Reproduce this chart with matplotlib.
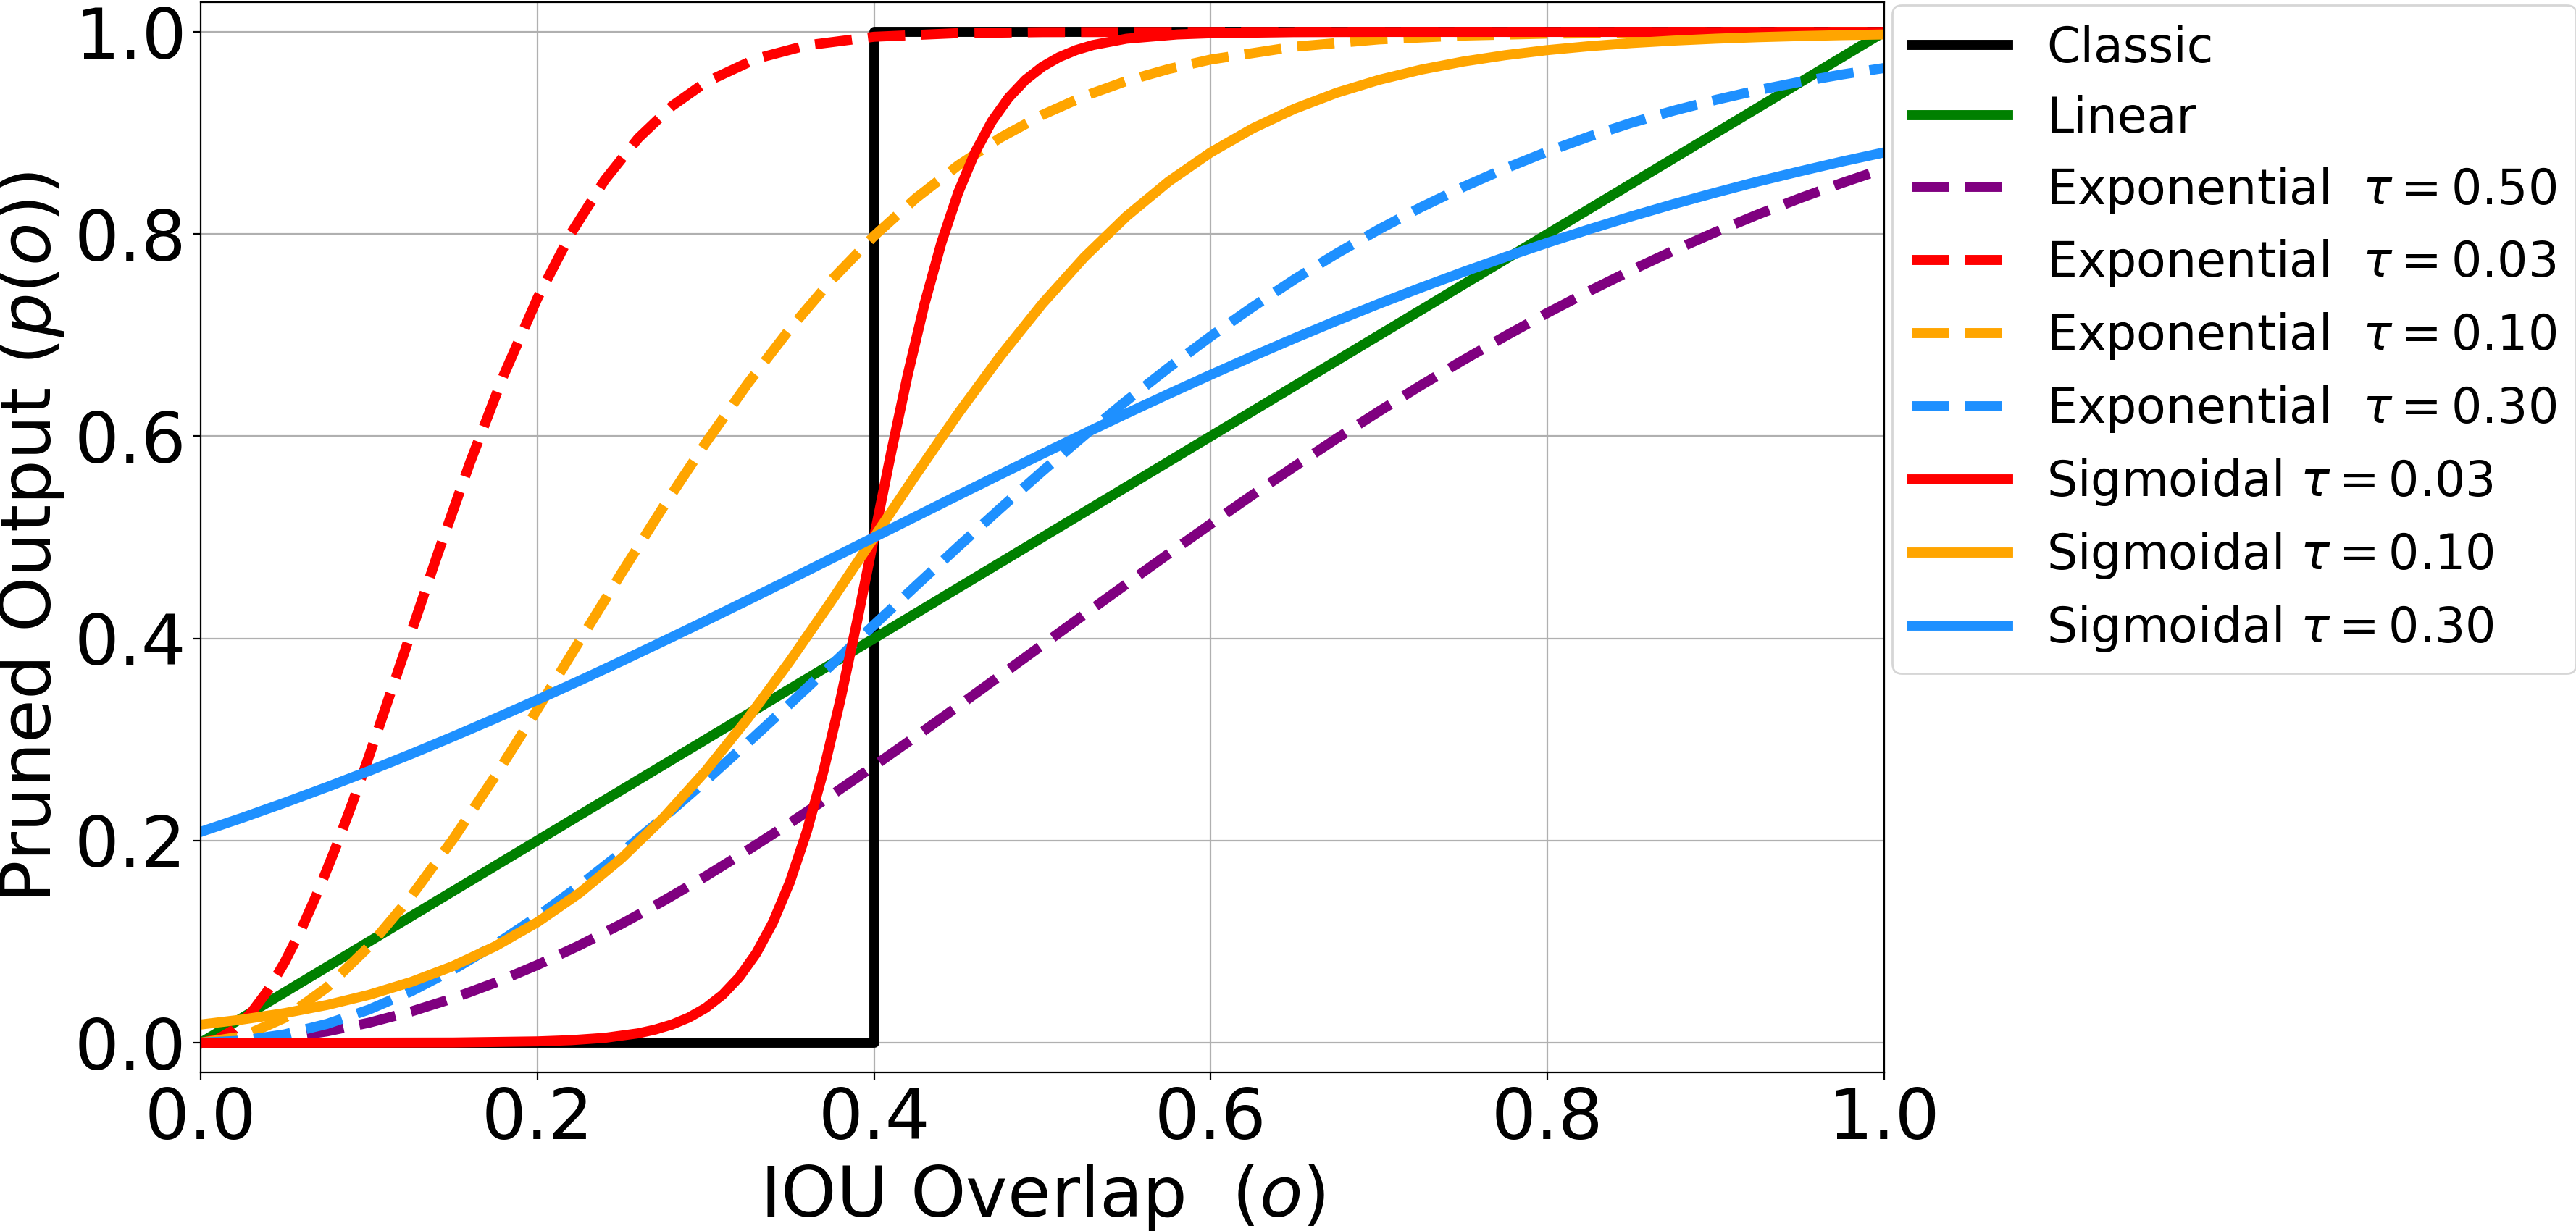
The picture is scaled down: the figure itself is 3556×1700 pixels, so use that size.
import numpy as np
import matplotlib.pyplot as plt

# IOU overlap values (o) and pruned output p(o)
classic_x = [0.0, 0.4, 0.4, 1.0]
classic_y = [0.0, 0.0, 1.0, 1.0]

linear_x = [0.0, 1.0]
linear_y = [0.0, 1.0]

grid025 = [0.0, 0.025, 0.05, 0.075, 0.1, 0.125, 0.15, 0.175, 0.2, 0.225, 0.25, 0.275, 0.3,
           0.325, 0.35, 0.375, 0.4, 0.425, 0.45, 0.475, 0.5, 0.525, 0.55, 0.575, 0.6, 0.625,
           0.65, 0.675, 0.7, 0.725, 0.75, 0.775, 0.8, 0.825, 0.85, 0.875, 0.9, 0.925, 0.95,
           0.975, 1.0]

exp50_y = [0.0, 0.0012, 0.0050, 0.0112, 0.0198, 0.0308, 0.0440, 0.0594, 0.0769, 0.0963, 0.1175,
           0.1404, 0.1647, 0.1905, 0.2173, 0.2452, 0.2739, 0.3032, 0.3330, 0.3632, 0.3935,
           0.4238, 0.4539, 0.4838, 0.5132, 0.5422, 0.5704, 0.5980, 0.6247, 0.6505, 0.6753,
           0.6991, 0.7220, 0.7437, 0.7643, 0.7837, 0.8021, 0.8194, 0.8355, 0.8506, 0.8647]

exp30_y = [0.0, 0.0021, 0.0083, 0.0186, 0.0328, 0.0508, 0.0723, 0.0970, 0.1248, 0.1553, 0.1881,
           0.2228, 0.2592, 0.2968, 0.3352, 0.3742, 0.4134, 0.4523, 0.4908, 0.5286, 0.5654,
           0.6010, 0.6352, 0.6678, 0.6988, 0.7280, 0.7555, 0.7810, 0.8047, 0.8266, 0.8466,
           0.8649, 0.8816, 0.8966, 0.9101, 0.9221, 0.9328, 0.9423, 0.9506, 0.9579, 0.9643]

exp03_x = [0.0, 0.01, 0.02, 0.03, 0.04, 0.05, 0.06, 0.07, 0.08, 0.09, 0.1, 0.12, 0.14, 0.16,
           0.18, 0.2, 0.22, 0.24, 0.26, 0.28, 0.3, 0.33, 0.36, 0.4, 0.45, 0.5, 0.6, 0.8, 1.0]
exp03_y = [0.0, 0.0033, 0.0132, 0.0296, 0.0519, 0.0800, 0.1131, 0.1507, 0.1921, 0.2366, 0.2835,
           0.3812, 0.4797, 0.5740, 0.6604, 0.7364, 0.8008, 0.8534, 0.8950, 0.9267, 0.9502,
           0.9735, 0.9867, 0.9952, 0.9988, 0.9998, 1.0, 1.0, 1.0]

exp10_x = [0.0, 0.025, 0.05, 0.075, 0.1, 0.125, 0.15, 0.175, 0.2, 0.225, 0.25, 0.275, 0.3,
           0.325, 0.35, 0.375, 0.4, 0.425, 0.45, 0.475, 0.5, 0.525, 0.55, 0.575, 0.6, 0.65,
           0.7, 0.75, 0.8, 0.9, 1.0]
exp10_y = [0.0, 0.0062, 0.0247, 0.0547, 0.0952, 0.1447, 0.2015, 0.2638, 0.3297, 0.3972, 0.4647,
           0.5306, 0.5934, 0.6522, 0.7062, 0.7550, 0.7981, 0.8357, 0.8680, 0.8953, 0.9179,
           0.9365, 0.9515, 0.9633, 0.9727, 0.9854, 0.9926, 0.9964, 0.9983, 0.9997, 1.0]

sig03_x = [0.0, 0.1, 0.15, 0.2, 0.22, 0.24, 0.26, 0.27, 0.28, 0.29, 0.3, 0.31, 0.32, 0.33, 0.34,
           0.35, 0.36, 0.37, 0.38, 0.39, 0.4, 0.41, 0.42, 0.43, 0.44, 0.45, 0.46, 0.47, 0.48,
           0.49, 0.5, 0.51, 0.52, 0.53, 0.55, 0.58, 0.6, 0.65, 0.7, 0.8, 1.0]
sig03_y = [0.0, 0.00005, 0.0002, 0.0013, 0.0025, 0.0048, 0.0093, 0.0130, 0.0180, 0.0249, 0.0344,
           0.0474, 0.0650, 0.0884, 0.1192, 0.1589, 0.2086, 0.2689, 0.3392, 0.4174, 0.5,
           0.5826, 0.6608, 0.7311, 0.7914, 0.8411, 0.8808, 0.9116, 0.9350, 0.9526, 0.9656,
           0.9751, 0.9820, 0.9870, 0.9933, 0.9975, 0.9987, 0.9998, 1.0, 1.0, 1.0]

sig10_y = [0.0180, 0.0230, 0.0293, 0.0373, 0.0474, 0.0601, 0.0759, 0.0954, 0.1192, 0.1480,
           0.1824, 0.2227, 0.2689, 0.3208, 0.3775, 0.4378, 0.5, 0.5622, 0.6225, 0.6792, 0.7311,
           0.7773, 0.8176, 0.8520, 0.8808, 0.9046, 0.9241, 0.9399, 0.9526, 0.9627, 0.9707,
           0.9770, 0.9820, 0.9859, 0.9890, 0.9914, 0.9933, 0.9948, 0.9959, 0.9968, 0.9975]

sig30_y = [0.2086, 0.2227, 0.2375, 0.2529, 0.2689, 0.2856, 0.3029, 0.3208, 0.3392, 0.3581,
           0.3775, 0.3973, 0.4174, 0.4378, 0.4584, 0.4792, 0.5, 0.5208, 0.5416, 0.5622, 0.5826,
           0.6027, 0.6225, 0.6419, 0.6608, 0.6792, 0.6971, 0.7144, 0.7311, 0.7471, 0.7625,
           0.7773, 0.7914, 0.8048, 0.8176, 0.8297, 0.8411, 0.8520, 0.8621, 0.8718, 0.8808]

ticks = [0.0, 0.2, 0.4, 0.6, 0.8, 1.0]

lw = 5
fig = plt.figure(figsize=(17.78, 8.5), dpi=200)
ax = fig.add_axes([0.0779, 0.1288, 0.6535, 0.8694])

ax.plot(classic_x, classic_y, color='black', lw=lw, label='Classic')
ax.plot(linear_x, linear_y, color='green', lw=lw, label='Linear')
ax.plot(grid025, exp50_y, '--', color='purple', lw=lw, label=r'Exponential  $\tau = 0.50$')
ax.plot(exp03_x, exp03_y, '--', color='red', lw=lw, label=r'Exponential  $\tau = 0.03$')
ax.plot(exp10_x, exp10_y, '--', color='orange', lw=lw, label=r'Exponential  $\tau = 0.10$')
ax.plot(grid025, exp30_y, '--', color='dodgerblue', lw=lw, label=r'Exponential  $\tau = 0.30$')
ax.plot(sig03_x, sig03_y, color='red', lw=lw, label=r'Sigmoidal $\tau = 0.03$')
ax.plot(grid025, sig10_y, color='orange', lw=lw, label=r'Sigmoidal $\tau = 0.10$')
ax.plot(grid025, sig30_y, color='dodgerblue', lw=lw, label=r'Sigmoidal $\tau = 0.30$')

ax.set_xlim(0, 1)
ax.set_ylim(-0.0294, 1.0294)
ax.set_xticks(ticks)
ax.set_yticks(ticks)
ax.tick_params(labelsize=35)
ax.grid(True)
ax.set_xlabel(r'IOU Overlap  ($o$)', fontsize=35)
ax.set_ylabel(r'Pruned Output ($p(o)$)', fontsize=35)

ax.legend(loc='upper left', bbox_to_anchor=(2612 / 3556, 1 - 7 / 1700),
          bbox_transform=fig.transFigure, borderaxespad=0, fontsize=24,
          labelspacing=0.464)

fig.savefig('out.png', dpi=200)
